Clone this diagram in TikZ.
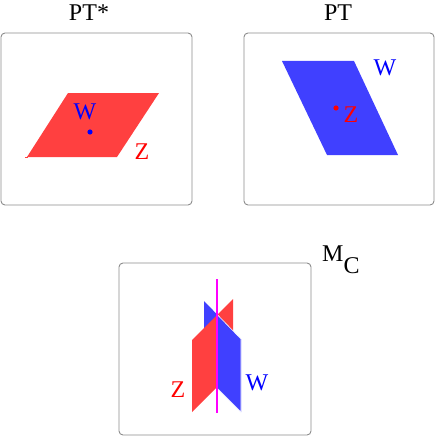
\documentclass[tikz,border=0pt]{standalone}
\usepackage{fontspec}
\setmainfont{Liberation Serif}
\definecolor{planered}{RGB}{255,64,64}
\definecolor{planeblue}{RGB}{64,64,255}
\definecolor{axis}{RGB}{255,0,255}
\definecolor{lblred}{RGB}{255,0,0}
\definecolor{lblblue}{RGB}{0,0,255}
\begin{document}
\begin{tikzpicture}[x=1pt,y=-1pt,
  frame/.style={draw=black!45,line width=0.9pt,rounded corners=4pt},
  lbl/.style={font=\fontsize{24}{24}\selectfont,inner sep=0pt},
  redp/.style={fill=planered},
  bluep/.style={fill=planeblue}]
\useasboundingbox (0,0) rectangle (436,436);
% titles
\node[lbl] (t1) at (89,13) {PT*};
\node[lbl] (t2) at (338,13) {PT};
\node[lbl,anchor=west] (t3) at (322,260) {M\raisebox{-12pt}{C}};
% frames
\draw[frame] (1,33) rectangle (192,205);
\draw[frame] (244,33) rectangle (434,205);
\draw[frame] (119,263) rectangle (311,435);
% PT*
\path[redp] (68,93) -- (159,93) -- (117,157) -- (27,157) -- cycle;
\draw[planered,line width=0.8pt] (25,157) -- (28,157);
\node[lbl,text=lblblue] (w1) at (85,112) {W};
\fill[lblblue] (90,132) circle (2.6);
\node[lbl,text=lblred] (z1) at (142,152) {Z};
% PT
\path[bluep] (282,61) -- (354,61) -- (398,155) -- (327,155) -- cycle;
\node[lbl,text=lblblue] (w2) at (385,68) {W};
\fill[lblred] (336,108) circle (2.6);
\node[lbl,text=lblred] (z2) at (351,115) {Z};
% M_C
\path[bluep] (204,301) -- (241,339) -- (241,412) -- (204,375) -- cycle;
\path[redp] (192,340) -- (233,299) -- (233,371) -- (192,412) -- cycle;
\begin{scope}
\clip (217,280) rectangle (260,420);
\path[bluep,draw=white,line width=0.6pt] (204,301) -- (241,339) -- (241,412) -- (204,375) -- cycle;
\end{scope}
\draw[axis,line width=1.4pt] (217,279) -- (217,413);
\node[lbl,text=lblred] (z3) at (178,390) {Z};
\node[lbl,text=lblblue] (w3) at (257,383) {W};
\end{tikzpicture}
\end{document}
